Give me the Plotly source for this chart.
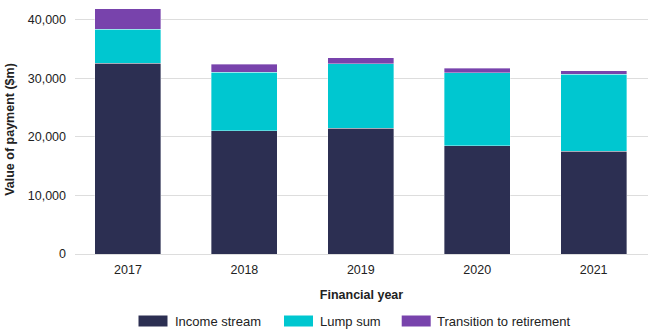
import plotly.graph_objects as go

years = ["2017", "2018", "2019", "2020", "2021"]
series_names = ["Income stream", "Lump sum", "Transition to retirement"]
income_stream = [32600, 21000, 21500, 18500, 17500]
lump_sum = [5800, 10000, 11000, 12400, 13200]
transition = [3500, 1400, 1000, 800, 600]
colors = ["#2c2f52", "#00c7d0", "#7843ac"]
y_ticks = [0, 10000, 20000, 30000, 40000]

FONT = "Arial, Liberation Sans, Helvetica, sans-serif"

fig = go.Figure()
for name, vals, col in zip(series_names, [income_stream, lump_sum, transition], colors):
    fig.add_trace(go.Bar(
        x=list(range(len(years))), y=vals, name=name,
        marker=dict(color=col, line=dict(color="rgba(255,255,255,0.6)", width=0.6)),
        width=0.567, showlegend=False,
    ))

# manual legend (swatches + real text labels)
leg_x = [138.5, 284, 401.7]
txt_x = [175, 319.5, 437.3]
W, H = 650, 333
for i, (name, col) in enumerate(zip(series_names, colors)):
    fig.add_shape(type="rect", xref="paper", yref="paper",
                  x0=(leg_x[i] - 75) / 573, x1=(leg_x[i] + 29 - 75) / 573,
                  y0=(254 - 326.5) / 249, y1=(254 - 315.5) / 249,
                  fillcolor=col, line=dict(width=0))
    fig.add_annotation(xref="paper", yref="paper",
                       x=(txt_x[i] - 75) / 573, y=(254 - 321) / 249,
                       text=name, showarrow=False, xanchor="left", yanchor="middle",
                       xshift=-2,
                       font=dict(family=FONT, size=13, color="#222222"))

fig.update_layout(
    barmode="stack",
    width=W, height=H,
    margin=dict(l=75, r=2, t=5, b=79),
    paper_bgcolor="white", plot_bgcolor="white",
    font=dict(family=FONT, size=12, color="#222222"),
    xaxis=dict(
        tickmode="array", tickvals=list(range(len(years))), ticktext=years,
        range=[-0.455, 4.467], showgrid=False, zeroline=False, showline=False,
        ticks="", ticklabelstandoff=6, tickfont=dict(size=12.5, color="#222222"),
        title=dict(text="<b>Financial year</b>", standoff=14,
                   font=dict(size=12.5, color="#222222")),
    ),
    yaxis=dict(
        range=[0, 42500], tickvals=y_ticks, tickformat=",d",
        showgrid=True, gridcolor="#dddddd", gridwidth=1.2,
        zeroline=True, zerolinecolor="#dddddd", zerolinewidth=1.2,
        showline=False, ticks="", ticklabelstandoff=8,
        tickfont=dict(size=12.5, color="#222222"),
        title=dict(text="<b>Value of payment ($m)</b>", standoff=10,
                   font=dict(size=12.5, color="#222222")),
    ),
)

fig.write_html("out.html")
